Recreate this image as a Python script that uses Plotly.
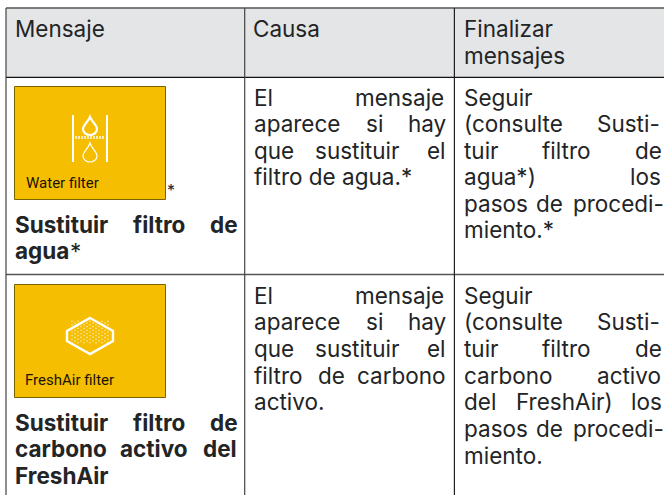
import plotly.graph_objects as go

# ---- table text -------------------------------------------------------
HEADER_1 = [["Mensaje"]]
HEADER_2 = [["Causa"]]
HEADER_3 = [["Finalizar"], ["mensajes"]]
TITLE_1 = [["Sustituir", "filtro", "de"], ["agua"]]
TITLE_2 = [["Sustituir", "filtro", "de"], ["carbono", "activo", "del"], ["FreshAir"]]
CAUSE_1 = [["El", "mensaje"], ["aparece", "si", "hay"], ["que", "sustituir", "el"], ["filtro de agua.*"]]
CAUSE_2 = [["El", "mensaje"], ["aparece", "si", "hay"], ["que", "sustituir", "el"], ["filtro", "de", "carbono"], ["activo."]]
END_1 = [["Seguir"], ["(consulte", "Susti-"], ["tuir", "filtro", "de"], ["agua*)", "los"], ["pasos", "de", "procedi-"], ["miento.*"]]
END_2 = [["Seguir"], ["(consulte", "Susti-"], ["tuir", "filtro", "de"], ["carbono", "activo"], ["del", "FreshAir)", "los"], ["pasos", "de", "procedi-"], ["miento."]]
ICON_LABELS = ["Water filter", "FreshAir filter"]

# ---- placement --------------------------------------------------------
X_TITLE_1 = [[14, 132, 209], [14]]
X_TITLE_2 = [[14, 132, 209], [14, 119, 202], [14]]
X_CAUSE_1 = [[253, 354], [253, 365, 407], [253, 314, 426], [253]]
X_CAUSE_2 = [[253, 354], [253, 365, 407], [253, 314, 426], [253, 317, 356], [253]]
X_END_1 = [[463], [463, 596], [463, 541, 634], [463, 629], [463, 535, 572], [463]]
X_END_2 = [[463], [463, 596], [463, 541, 634], [463, 596], [463, 515, 630], [463, 535, 572], [463]]
Y_HEAD = [37, 64]
Y_ROW_1 = [106, 132.5, 159, 185, 212, 238.5]
Y_ROW_2 = [304, 330, 357, 384, 410, 437, 464]
Y_TITLE_1 = [233, 259]
Y_TITLE_2 = [431, 457, 484]

FONT = "Inter"
SIZE = 22.5
INK = "#222426"
HALF = 8.7  # text centre above baseline

ann = []


def place(lines, xs, ys, bold=False):
    for words, wx, y in zip(lines, xs, ys):
        for w, x in zip(words, wx):
            ann.append(dict(x=x, y=y - HALF, text=f"<b>{w}</b>" if bold else w,
                            xanchor="left", yanchor="middle", showarrow=False, borderpad=0,
                            font=dict(family=FONT, size=SIZE, color=INK)))


place(HEADER_1, [[14]], Y_HEAD)
place(HEADER_2, [[252]], Y_HEAD)
place(HEADER_3, [[463], [463]], Y_HEAD)
place(CAUSE_1, X_CAUSE_1, Y_ROW_1)
place(CAUSE_2, X_CAUSE_2, Y_ROW_2)
place(END_1, X_END_1, Y_ROW_1)
place(END_2, X_END_2, Y_ROW_2)
place(TITLE_1, X_TITLE_1, Y_TITLE_1, bold=True)
place(TITLE_2, X_TITLE_2, Y_TITLE_2, bold=True)
ann.append(dict(x=69, y=251, text="*", xanchor="left", yanchor="middle", showarrow=False, borderpad=0,
                font=dict(family=FONT, size=SIZE, color=INK)))
ann.append(dict(x=166, y=190, text="*", xanchor="left", yanchor="middle", showarrow=False, borderpad=0,
                font=dict(family=FONT, size=16, color=INK)))
for label, x, y in zip(ICON_LABELS, [25, 24], [183, 380]):
    ann.append(dict(x=x, y=y, text=label, xanchor="left", yanchor="middle", showarrow=False, borderpad=0,
                    font=dict(family="Liberation Sans Narrow, Roboto", size=15, color="#1a1400")))

shapes = []
# header band
shapes.append(dict(type="rect", x0=6, x1=664, y0=8, y1=77, fillcolor="#E4E5E7", line_width=0, layer="below"))
# grid


def hline(y, x0=6, x1=664, color="#555555", w=1.5):
    shapes.append(dict(type="line", x0=x0, x1=x1, y0=y, y1=y, line=dict(color=color, width=w)))


def vline(x, y0=8, y1=495, color="#444444", w=1.2):
    shapes.append(dict(type="line", x0=x, x1=x, y0=y0, y1=y1, line=dict(color=color, width=w)))


hline(8)
hline(77.4, color="#111111", w=1.2)
hline(274.4)
vline(6)
vline(244.7)
vline(454.4, color="#222222")
# yellow tiles
for y0, y1 in [(86.5, 199.5), (284.5, 397.5)]:
    shapes.append(dict(type="rect", x0=14.5, x1=165.5, y0=y0, y1=y1, fillcolor="#F5BE00", layer="below",
                       line=dict(color="#7A6200", width=1)))
# water icon
vline(73, 115, 162, "white", 2)
vline(107, 115, 162, "white", 2)
shapes.append(dict(type="path", path="M 90 117 C 92 122 97 125 97 129 C 97 133 93 135 90 135 C 87 135 83 133 83 129 C 83 125 88 122 90 117 Z",
                   line=dict(color="white", width=2.2)))
shapes.append(dict(type="path", path="M 90 143 C 92 149 97 152 97 156 C 97 160 93 162 90 162 C 87 162 83 160 83 156 C 83 152 88 149 90 143 Z",
                   line=dict(color="white", width=1.2)))
shapes.append(dict(type="line", x0=75, x1=105, y0=137.5, y1=137.5,
                   line=dict(color="rgba(255,255,255,0.7)", width=3, dash="2px,1px")))
# air filter icon
shapes.append(dict(type="path", path="M 90 318 L 113 331 L 113 341 L 90 354 L 67 341 L 67 331 Z",
                   line=dict(color="white", width=2.4)))

# perforated texture of the air filter
dx, dy = [], []
for i in range(-6, 7):
    for j in range(-6, 7):
        if abs(i) + abs(j) <= 6:
            dx.append(90 + (i - j) * 3.0)
            dy.append(332 + (i + j) * 1.8)

fig = go.Figure(go.Scatter(x=dx, y=dy, mode="markers", hoverinfo="skip",
                           marker=dict(color="rgba(255,255,255,0.7)", size=1.6, line_width=0)))
fig.update_layout(
    width=664, height=495, margin=dict(l=0, r=0, t=0, b=0), autosize=False,
    paper_bgcolor="white", plot_bgcolor="white", showlegend=False,
    xaxis=dict(range=[0, 664], visible=False, fixedrange=True),
    yaxis=dict(range=[495, 0], visible=False, fixedrange=True),
    annotations=ann, shapes=shapes,
)
fig.write_html("out.html", config={"displayModeBar": False},
               post_script="document.body.style.margin='0';document.documentElement.style.overflow='hidden';")
